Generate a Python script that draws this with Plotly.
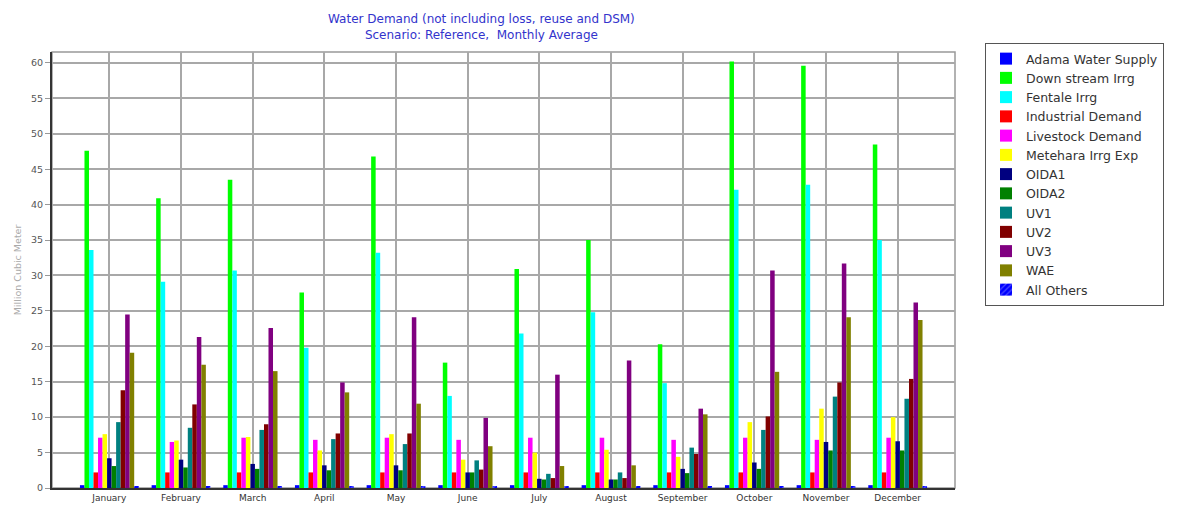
import plotly.graph_objects as go

months = ["January", "February", "March", "April", "May", "June", "July",
          "August", "September", "October", "November", "December"]

adama = [0.4] * 12
downstream = [47.6, 40.9, 43.5, 27.6, 46.8, 17.7, 30.9, 35.0, 20.3, 60.2, 59.6, 48.5]
fentale = [33.6, 29.1, 30.7, 19.8, 33.2, 13.0, 21.8, 24.8, 14.8, 42.1, 42.8, 35.0]
industrial = [2.2] * 12
livestock = [7.1, 6.5, 7.1, 6.8, 7.1, 6.8, 7.1, 7.1, 6.8, 7.1, 6.8, 7.1]
metehara = [7.6, 6.7, 7.2, 5.3, 7.6, 4.0, 5.0, 5.4, 4.4, 9.3, 11.2, 10.0]
oida1 = [4.2, 4.0, 3.4, 3.2, 3.2, 2.2, 1.3, 1.2, 2.7, 3.6, 6.5, 6.6]
oida2 = [3.1, 2.9, 2.7, 2.5, 2.5, 2.2, 1.2, 1.2, 2.1, 2.7, 5.3, 5.3]
uv1 = [9.3, 8.5, 8.2, 6.9, 6.2, 3.9, 2.0, 2.2, 5.7, 8.2, 12.9, 12.6]
uv2 = [13.8, 11.8, 9.0, 7.7, 7.7, 2.6, 1.4, 1.4, 4.8, 10.1, 14.9, 15.4]
uv3 = [24.5, 21.3, 22.6, 14.9, 24.1, 9.9, 16.0, 18.0, 11.2, 30.7, 31.7, 26.2]
wae = [19.1, 17.4, 16.5, 13.5, 11.9, 5.9, 3.1, 3.2, 10.4, 16.4, 24.1, 23.7]
all_others = [0.15] * 12

series = [
    ("Adama Water Supply", adama, "#0000ff"),
    ("Down stream Irrg", downstream, "#00ff00"),
    ("Fentale Irrg", fentale, "#00ffff"),
    ("Industrial Demand", industrial, "#ff0000"),
    ("Livestock Demand", livestock, "#ff00ff"),
    ("Metehara Irrg Exp", metehara, "#ffff00"),
    ("OIDA1", oida1, "#000080"),
    ("OIDA2", oida2, "#008000"),
    ("UV1", uv1, "#008080"),
    ("UV2", uv2, "#800000"),
    ("UV3", uv3, "#800080"),
    ("WAE", wae, "#808000"),
]

fig = go.Figure()
for name, vals, col in series:
    fig.add_trace(go.Bar(x=months, y=vals, name=name, marker_color=col,
                         marker_line_width=0))
fig.add_trace(go.Bar(x=months, y=all_others, name="All Others",
                     marker=dict(color="#0000ff", line_width=0,
                                 pattern=dict(shape="/", fgcolor="#9999ff",
                                              bgcolor="#0000ff", size=5, solidity=0.3))))

W, H = 1192, 508
PL, PR, PT, PB = 52, 955, 52, 488
pw, ph = PR - PL, PB - PT

fig.update_layout(
    width=W, height=H,
    paper_bgcolor="white", plot_bgcolor="white",
    margin=dict(l=PL, r=W - PR, t=PT, b=H - PB, autoexpand=False),
    barmode="group", bargap=0.18, bargroupgap=0,
    font=dict(family="DejaVu Sans", color="#333333"),
    showlegend=True,
    legend=dict(x=985 / W, xref="container", xanchor="left",
                y=1 - 43 / H, yref="container", yanchor="top",
                maxheight=0.95,
                font=dict(size=12.5, color="#333333", family="DejaVu Sans"),
                bordercolor="#555555", borderwidth=1, bgcolor="white",
                itemclick=False),
    xaxis=dict(range=[-0.8, 11.8], showgrid=True, gridcolor="#a8a8a8", gridwidth=1.5,
               showline=True, linecolor="#333333", linewidth=2,
               tickfont=dict(size=9, color="#333333"), ticks="",
               automargin=False, fixedrange=True),
    yaxis=dict(range=[0, 61.55], dtick=5, showgrid=True, gridcolor="#a8a8a8",
               gridwidth=1.5, showline=True, linecolor="#333333", linewidth=2,
               ticks="outside", ticklen=5, tickcolor="#999999",
               tickfont=dict(size=9.5, color="#555555"),
               title=dict(text="Million Cubic Meter", font=dict(size=9.5, color="#aaaaaa"),
                          standoff=8),
               automargin=False, zeroline=False, fixedrange=True),
    shapes=[dict(type="rect", xref="paper", yref="paper", x0=0, x1=1, y0=0, y1=1,
                 line=dict(color="#999999", width=1.5), layer="below")],
    annotations=[
        dict(text="Water Demand (not including loss, reuse and DSM)<br>Scenario: Reference,  Monthly Average",
             xref="paper", yref="paper", x=(481 - PL) / pw, y=1, yshift=42,
             xanchor="center", yanchor="top", showarrow=False,
             font=dict(size=12, color="#3333cc", family="DejaVu Sans")),
    ],
)

fig.write_html("out.html", config={"displayModeBar": False},
               post_script="document.body.style.margin='0';document.body.style.padding='0';")
